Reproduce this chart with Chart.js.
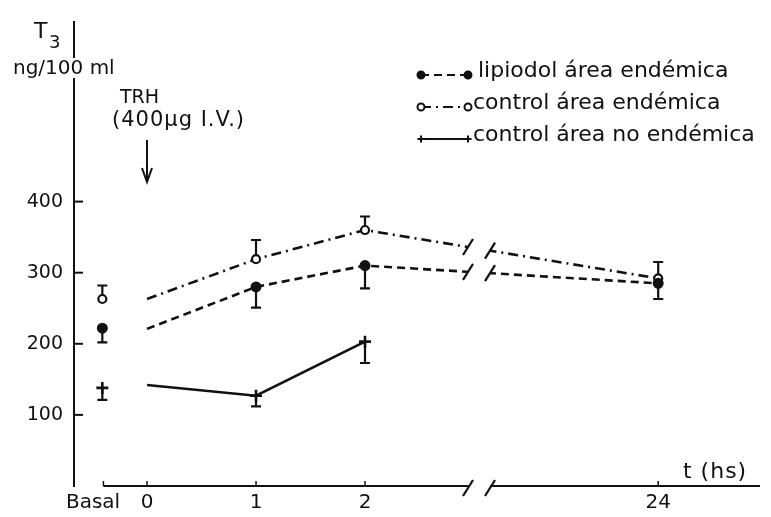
<!DOCTYPE html>
<html>
<head>
<meta charset="utf-8">
<script src="https://cdn.jsdelivr.net/npm/chart.js@4.4.1/dist/chart.umd.min.js"></script>
<style>
  html, body { margin: 0; padding: 0; background: #fff; }
  #wrap { width: 771px; height: 517px; }
</style>
</head>
<body>
<div id="wrap"><canvas id="c"></canvas></div>
<script>
// time axis: 0..2 h drawn to scale, 24 h placed after the axis break
const timeLabels = ['Basal', '0', '1', '2', '24'];
const timePos = [-0.41, 0, 1, 2, 4.69];
const labelPos = [-0.495, 0, 1, 2, 4.69];
const yTicks = [100, 200, 300, 400];
const breakFrom = 2.945;
const breakTo = 3.147;

// T3 (ng/100 ml), mean and the visible end of each error bar
const lipiodol = [222, 221, 280, 310, 285];
const lipiodolLow = [202, null, 251, 278, 263];
const lipiodolHigh = [null, null, null, null, null];

const controlEnd = [263, 263, 319, 360, 292];
const controlEndLow = [null, null, null, null, null];
const controlEndHigh = [282, null, 346, 379, 315];

const controlNoEnd = [138, 142, 127, 203, null];
const controlNoEndLow = [121, null, 112, 173, null];
const controlNoEndHigh = [null, null, null, null, null];

const ink = '#111';
const font = 'DejaVu Sans';
Chart.defaults.font.family = font;
Chart.defaults.color = ink;

function series(label, values, dash, style, radius, fill, bw) {
  return {
    label: label,
    data: values.map((v, i) => ({x: timePos[i], y: v})),
    borderColor: ink,
    borderWidth: 2.6,
    borderDash: dash,
    pointStyle: style,
    pointRadius: values.map((v, i) => i === 1 ? 0 : radius),
    pointBackgroundColor: fill,
    pointBorderColor: ink,
    pointBorderWidth: bw,
    tension: 0,
    // basal value is not joined to the curve
    segment: {borderColor: ctx => ctx.p0DataIndex === 0 ? 'rgba(0,0,0,0)' : ink},
  };
}

const errors = [
  [lipiodol, lipiodolLow, lipiodolHigh],
  [controlEnd, controlEndLow, controlEndHigh],
  [controlNoEnd, controlNoEndLow, controlNoEndHigh],
];

const errorBars = {
  id: 'errorBars',
  beforeDatasetsDraw(chart) {
    const {ctx, scales: {x, y}} = chart;
    ctx.save();
    ctx.strokeStyle = ink;
    ctx.lineWidth = 2.2;
    errors.forEach(([vals, low, high]) => {
      vals.forEach((v, i) => {
        if (v == null) return;
        const px = x.getPixelForValue(timePos[i]);
        [low[i], high[i]].forEach(e => {
          if (e == null) return;
          const py = y.getPixelForValue(e);
          ctx.beginPath();
          ctx.moveTo(px, y.getPixelForValue(v));
          ctx.lineTo(px, py);
          ctx.moveTo(px - 5, py);
          ctx.lineTo(px + 5, py);
          ctx.stroke();
        });
      });
    });
    ctx.restore();
  }
};

function slash(ctx, px, py) {
  ctx.beginPath();
  ctx.moveTo(px - 5, py + 8);
  ctx.lineTo(px + 5, py - 8);
  ctx.stroke();
}

const axisBreak = {
  id: 'axisBreak',
  afterDatasetsDraw(chart) {
    const {ctx, chartArea, scales: {x, y}} = chart;
    const x1 = x.getPixelForValue(breakFrom);
    const x2 = x.getPixelForValue(breakTo);
    const bottom = chartArea.bottom;
    ctx.save();
    ctx.fillStyle = '#fff';
    ctx.fillRect(x1, chartArea.top + 160, x2 - x1, bottom - chartArea.top - 150);
    ctx.strokeStyle = ink;
    ctx.lineWidth = 2.2;
    // slashes on the curves that cross the break
    [lipiodol, controlEnd].forEach(v => {
      [breakFrom, breakTo].forEach(b => {
        const val = v[3] + (v[4] - v[3]) * (b - timePos[3]) / (timePos[4] - timePos[3]);
        slash(ctx, x.getPixelForValue(b), y.getPixelForValue(val));
      });
    });
    // x axis line with its own break
    ctx.beginPath();
    ctx.moveTo(x.getPixelForValue(-0.4), bottom);
    ctx.lineTo(x1, bottom);
    ctx.moveTo(x2, bottom);
    ctx.lineTo(chartArea.right, bottom);
    ctx.stroke();
    slash(ctx, x1, bottom + 2);
    slash(ctx, x2, bottom + 2);
    ctx.lineWidth = 1.5;
    [-0.4, 0, 1, 2, 4.69].forEach(t => {
      const px = x.getPixelForValue(t);
      ctx.beginPath();
      ctx.moveTo(px, bottom);
      ctx.lineTo(px, bottom - 5);
      ctx.stroke();
    });
    // inward y ticks
    ctx.lineWidth = 2;
    yTicks.forEach(t => {
      const py = y.getPixelForValue(t);
      ctx.beginPath();
      ctx.moveTo(chartArea.left, py);
      ctx.lineTo(chartArea.left + 9, py);
      ctx.stroke();
    });
    ctx.restore();
  }
};

const notes = {
  id: 'notes',
  afterDraw(chart) {
    const {ctx, data} = chart;
    ctx.save();
    ctx.fillStyle = ink;
    ctx.strokeStyle = ink;
    ctx.textBaseline = 'alphabetic';
    // axis title
    ctx.font = '22px "' + font + '"';
    ctx.fillText('T', 34, 38);
    ctx.font = '18px "' + font + '"';
    ctx.fillText('3', 49, 48);
    ctx.font = '20px "' + font + '"';
    ctx.fillStyle = '#fff';
    ctx.fillRect(62, 58, 20, 20);
    ctx.fillStyle = ink;
    ctx.fillText('ng/100 ml', 13, 74);
    // injection note
    ctx.font = '19px "' + font + '"';
    ctx.fillText('TRH', 120, 103);
    ctx.font = '21px "' + font + '"';
    ctx.letterSpacing = '1px';
    ctx.fillText('(400\u00b5g I.V.)', 112, 126);
    ctx.letterSpacing = '0px';
    ctx.lineWidth = 2;
    ctx.beginPath();
    ctx.moveTo(147, 140);
    ctx.lineTo(147, 182);
    ctx.moveTo(142, 168);
    ctx.lineTo(147, 182);
    ctx.lineTo(152, 168);
    ctx.stroke();
    // x axis title
    ctx.font = '22px "' + font + '"';
    ctx.letterSpacing = '1px';
    ctx.fillText('t (hs)', 683, 478);
    ctx.letterSpacing = '0px';
    // legend
    const rows = [75, 107, 139];
    const textX = [478, 473, 473];
    data.datasets.forEach((ds, i) => {
      const yy = rows[i];
      ctx.lineWidth = 2;
      ctx.setLineDash(ds.borderDash);
      ctx.beginPath();
      ctx.moveTo(421, yy);
      ctx.lineTo(468, yy);
      ctx.stroke();
      ctx.setLineDash([]);
      [421, 468].forEach(px => {
        ctx.fillStyle = ds.pointBackgroundColor;
        Chart.helpers.drawPoint(ctx, {pointStyle: ds.pointStyle, radius: 3.5, borderWidth: 2, rotation: 0}, px, yy);
      });
      ctx.fillStyle = ink;
      ctx.font = '22px "' + font + '"';
      ctx.fillText(ds.label, textX[i], yy + 2);
    });
    ctx.restore();
  }
};

new Chart(document.getElementById('c'), {
  type: 'line',
  data: {
    datasets: [
      series('lipiodol área endémica', lipiodol, [8, 5], 'circle', 4.5, ink, 2),
      series('control área endémica', controlEnd, [10, 5, 2, 5], 'circle', 4, '#fff', 2.2),
      series('control área no endémica', controlNoEnd, [], 'cross', 6, ink, 2.6),
    ]
  },
  options: {
    responsive: true,
    maintainAspectRatio: false,
    animation: false,
    layout: {padding: {top: 8, right: 11, left: 0, bottom: 0}},
    plugins: {legend: {display: false}, tooltip: {enabled: false}},
    scales: {
      x: {
        type: 'linear',
        min: -0.67,
        max: 5.624,
        afterFit: s => { s.height = 31; },
        afterBuildTicks: s => { s.ticks = labelPos.map(v => ({value: v})); },
        ticks: {
          padding: 5,
          font: {size: 20},
          callback: (v, i) => timeLabels[i],
        },
        grid: {display: false, drawTicks: false},
        border: {display: false},
      },
      y: {
        min: 0,
        max: 652,
        afterFit: s => { s.width = 74; },
        afterBuildTicks: s => { s.ticks = yTicks.map(v => ({value: v})); },
        ticks: {padding: 11, font: {size: 19}},
        grid: {drawOnChartArea: false, drawTicks: false},
        border: {display: true, color: ink, width: 2},
      }
    }
  },
  plugins: [errorBars, axisBreak, notes]
});
</script>
</body>
</html>
